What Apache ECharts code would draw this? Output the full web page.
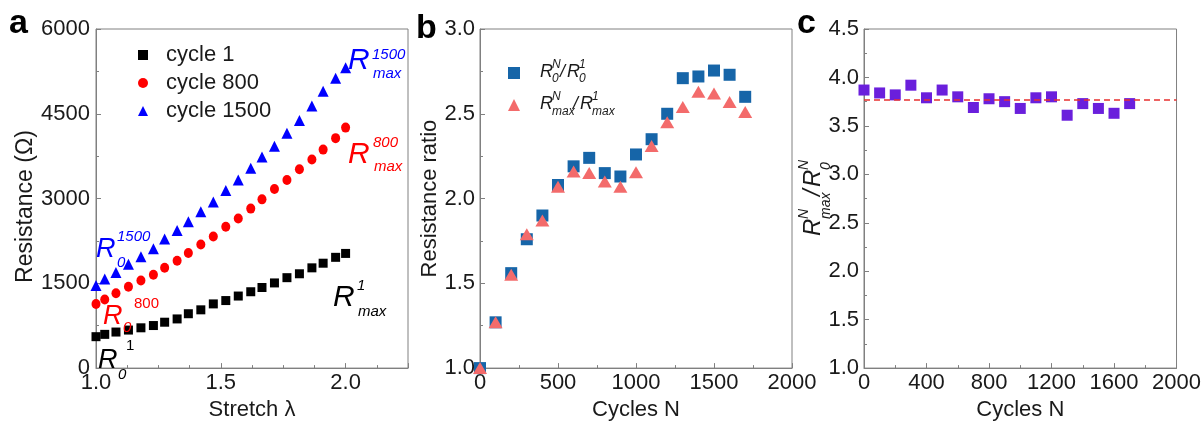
<!DOCTYPE html>
<html>
<head>
<meta charset="utf-8">
<script src="https://cdn.jsdelivr.net/npm/echarts@6/dist/echarts.min.js"></script>
<style>
html,body{margin:0;padding:0;background:#fff;}
#chart{width:1204px;height:426px;}
</style>
</head>
<body>
<div id="chart"></div>
<script>
// ---------- Panel a data ----------
const stretch = [1.0,1.035,1.08,1.13,1.18,1.23,1.275,1.325,1.37,1.42,1.47,1.52,1.57,1.62,1.665,1.715,1.765,1.815,1.865,1.91,1.96,2.0];
const cycle1 = [556,597,638,673,713,753,812,870,962,1031,1136,1195,1275,1351,1426,1507,1600,1669,1774,1856,1960,2029];
const cycle800 = [1135,1215,1325,1440,1550,1652,1776,1898,2035,2186,2330,2500,2648,2822,2986,3170,3327,3518,3692,3866,4069,4255];
const cycle1500 = [1461,1577,1692,1838,1971,2110,2283,2435,2591,2765,2939,3142,3327,3535,3733,3924,4156,4380,4638,4899,5130,5316];
const legendA = ['cycle 1','cycle 800','cycle 1500'];

// ---------- Panel b data ----------
const cyclesN = [0,100,200,300,400,500,600,700,800,900,1000,1100,1200,1300,1400,1500,1600,1700];
const ratioR0 = [1.0,1.27,1.56,1.76,1.90,2.08,2.19,2.24,2.15,2.13,2.26,2.35,2.50,2.71,2.72,2.755,2.73,2.60];
const ratioRmax = [1.0,1.27,1.55,1.79,1.87,2.07,2.16,2.15,2.10,2.07,2.155,2.31,2.45,2.54,2.63,2.62,2.57,2.51];

// ---------- Panel c data ----------
const ratioMax0 = [3.87,3.84,3.82,3.92,3.79,3.87,3.80,3.69,3.78,3.75,3.68,3.79,3.80,3.61,3.73,3.68,3.63,3.73];
const meanRatio = 3.77;

const FONT = "'Liberation Sans', Arial, sans-serif";
const AX = '#808080';
const TXT = '#1a1a1a';
const FS = 22;

function valueAxis(grid, min, max, interval, minorSplit, margin, fmt, extra) {
  return Object.assign({
    type: 'value', gridIndex: grid, min: min, max: max, interval: interval,
    axisLine: {show: true, onZero: false, lineStyle: {color: AX, width: 1}},
    axisTick: {show: true, inside: true, length: 5, lineStyle: {color: AX}},
    minorTick: {show: true, splitNumber: minorSplit, length: 3, lineStyle: {color: AX}},
    splitLine: {show: false},
    axisLabel: {color: TXT, fontSize: FS, fontFamily: FONT, margin: margin, formatter: fmt},
    nameTextStyle: {color: TXT, fontSize: FS, fontFamily: FONT}
  }, extra || {});
}

function pairs(xs, ys) { return xs.map((x, i) => [x, ys[i]]); }

// math-style label: parts = [dx, dy, text, fontSize, italic]
function mathText(x, y, color, parts, rotation) {
  return {
    type: 'group', x: x, y: y, rotation: rotation || 0, silent: true, z: 100,
    children: parts.map(p => ({
      type: 'text', x: p[0], y: p[1], z: 100,
      style: {text: p[2], fill: color, fontSize: p[3], fontStyle: p[4] ? 'italic' : 'normal',
              fontFamily: FONT, verticalAlign: 'middle', align: 'left'}
    }))
  };
}

const chart = echarts.init(document.getElementById('chart'), null, {renderer: 'canvas'});

const option = {
  animation: false,
  backgroundColor: '#fff',
  grid: [
    {left: 96, top: 29, width: 312, height: 345, show: true, borderColor: AX, borderWidth: 1},
    {left: 480, top: 29, width: 312, height: 343, show: true, borderColor: AX, borderWidth: 1},
    {left: 864, top: 29, width: 313, height: 344, show: true, borderColor: AX, borderWidth: 1}
  ],
  xAxis: [
    valueAxis(0, 1.0, 2.25, 0.5, 4, 4, v => v.toFixed(1),
      {name: 'Stretch λ', nameLocation: 'middle', nameGap: 30, axisLabel: {color: TXT, fontSize: FS, fontFamily: FONT, margin: 4, showMaxLabel: false, formatter: v => v.toFixed(1)}}),
    valueAxis(1, 0, 2000, 500, 2, 4, v => String(v), {name: 'Cycles N', nameLocation: 'middle', nameGap: 30}),
    valueAxis(2, 0, 2000, 400, 2, 4, v => String(v), {name: 'Cycles N', nameLocation: 'middle', nameGap: 30})
  ],
  yAxis: [
    valueAxis(0, 0, 6000, 1500, 2, 6, v => String(v), {name: 'Resistance (Ω)', nameLocation: 'middle', nameGap: 58,
      nameTextStyle: {color: TXT, fontSize: 23, fontFamily: FONT, padding: [0, 16, 0, 0]}}),
    valueAxis(1, 1.0, 3.0, 0.5, 2, 5, v => v.toFixed(1), {name: 'Resistance ratio', nameLocation: 'middle', nameGap: 36}),
    valueAxis(2, 1.0, 4.5, 0.5, 2, 5, v => v.toFixed(1))
  ],
  legend: [
    {
      data: [{name: legendA[0], icon: 'rect'}, {name: legendA[1], icon: 'circle'}, {name: legendA[2], icon: 'triangle'}],
      orient: 'vertical', left: 133, top: 39, itemWidth: 10, itemHeight: 10, itemGap: 6,
      selectedMode: false,
      textStyle: {color: TXT, fontSize: FS, fontFamily: FONT, padding: [0, 0, 0, 13]}
    },
    {
      data: [{name: 'R0 ratio', icon: 'rect'}, {name: 'Rmax ratio', icon: 'triangle'}],
      orient: 'vertical', left: 503, top: 62, itemWidth: 12, itemHeight: 12, itemGap: 20,
      selectedMode: false, formatter: () => '',
      textStyle: {fontSize: 12, lineHeight: 12}
    }
  ],
  series: [
    {type: 'scatter', name: legendA[0], xAxisIndex: 0, yAxisIndex: 0, data: pairs(stretch, cycle1),
     symbol: 'rect', symbolSize: 9, itemStyle: {color: '#000000', opacity: 1}},
    {type: 'scatter', name: legendA[1], xAxisIndex: 0, yAxisIndex: 0, data: pairs(stretch, cycle800),
     symbol: 'circle', symbolSize: [9, 10], itemStyle: {color: '#ff0000', opacity: 1}},
    {type: 'scatter', name: legendA[2], xAxisIndex: 0, yAxisIndex: 0, data: pairs(stretch, cycle1500),
     symbol: 'triangle', symbolSize: [11, 11], itemStyle: {color: '#0000ff', opacity: 1}},
    {type: 'scatter', name: 'R0 ratio', xAxisIndex: 1, yAxisIndex: 1, data: pairs(cyclesN, ratioR0),
     symbol: 'rect', symbolSize: 12, itemStyle: {color: '#1665a8', opacity: 1}},
    {type: 'scatter', name: 'Rmax ratio', xAxisIndex: 1, yAxisIndex: 1, data: pairs(cyclesN, ratioRmax),
     symbol: 'triangle', symbolSize: [14, 12], itemStyle: {color: '#f36b6b', opacity: 1}},
    {type: 'scatter', name: 'Rmax/R0', xAxisIndex: 2, yAxisIndex: 2, data: pairs(cyclesN, ratioMax0),
     symbol: 'rect', symbolSize: 11, itemStyle: {color: '#6a1fdc', opacity: 1},
     markLine: {silent: true, symbol: 'none', label: {show: false},
                lineStyle: {color: '#e8302f', type: [6, 4], width: 1.5},
                data: [{yAxis: meanRatio}]}}
  ],
  graphic: [
    // panel letters
    {type: 'text', x: 9, y: 24, style: {text: 'a', fontSize: 34, fontWeight: 'bold', fontFamily: FONT, fill: '#000', verticalAlign: 'middle'}},
    {type: 'text', x: 416, y: 29, style: {text: 'b', fontSize: 34, fontWeight: 'bold', fontFamily: FONT, fill: '#000', verticalAlign: 'middle'}},
    {type: 'text', x: 797, y: 24, style: {text: 'c', fontSize: 34, fontWeight: 'bold', fontFamily: FONT, fill: '#000', verticalAlign: 'middle'}},
    // panel a annotations
    mathText(348, 61, '#0000ff', [[0, 0, 'R', 30, true], [24, -6, '1500', 15, true], [25, 13, 'max', 15, true]]),
    mathText(348, 155, '#ff0000', [[0, 0, 'R', 30, true], [25, -12, '800', 15, true], [26, 12, 'max', 15, true]]),
    mathText(333, 298, '#000000', [[0, 0, 'R', 30, true], [24, -12, '1', 15, true], [25, 14, 'max', 15, true]]),
    mathText(96, 249, '#0000ff', [[0, 0, 'R', 27, true], [21, -12, '1500', 15, true], [21, 14, '0', 15, true]]),
    mathText(103, 316, '#ff0000', [[0, 0, 'R', 27, true], [20, 12, '0', 15, true], [31, -12, '800', 15, false]]),
    mathText(98, 360, '#000000', [[0, 0, 'R', 27, true], [20, 15, '0', 15, true], [28, -14, '1', 15, false]]),
    // panel b legend text
    mathText(540, 72, TXT, [[0, 0, 'R', 18, true], [12, -7, 'N', 12, true], [12, 7, '0', 12, true],
                            [20, 0, '/', 18, true], [27, 0, 'R', 18, true], [39, -7, '1', 12, true], [39, 7, '0', 12, true]]),
    mathText(540, 104, TXT, [[0, 0, 'R', 18, true], [12, -7, 'N', 12, true], [12, 8, 'max', 12, true],
                             [33, 0, '/', 18, true], [40, 0, 'R', 18, true], [52, -7, '1', 12, true], [52, 8, 'max', 12, true]]),
    // panel c y-axis title (rotated)
    mathText(813, 236, TXT, [[0, 0, 'R', 24, true], [17, -9, 'N', 14, true], [17, 13, 'max', 14, true],
                             [40, 0, '/', 24, true], [49, 0, 'R', 24, true], [66, -9, 'N', 14, true], [66, 13, '0', 14, true]], Math.PI / 2)
  ]
};

chart.setOption(option);
</script>
</body>
</html>
